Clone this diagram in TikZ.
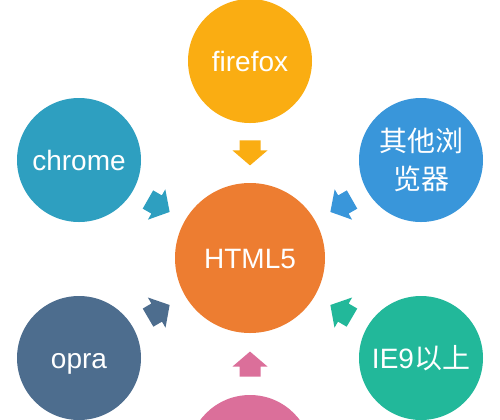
\documentclass[tikz,border=0pt]{standalone}
\usepackage{fontspec}
\setmainfont{Liberation Sans}
\newfontfamily\cjk{Noto Sans CJK SC}
\usetikzlibrary{calc}
\definecolor{cff}{HTML}{FAAD12}
\definecolor{cchrome}{HTML}{2E9FC0}
\definecolor{cother}{HTML}{3996DA}
\definecolor{copra}{HTML}{4D6D8E}
\definecolor{cie}{HTML}{22B89A}
\definecolor{cpink}{HTML}{DB6F9A}
\definecolor{chtml}{HTML}{ED7D31}
\tikzset{
  ball/.style={circle, minimum size=93pt, inner sep=0pt, text=white, align=center,
    font=\fontsize{21}{28.5}\selectfont},
  oneline/.style={ball, text height=15pt, text depth=0pt},
  bigball/.style={oneline, minimum size=112.5pt},
  pics/barrow/.style={code={
    \fill[#1] (0,0) -- (-15,17.5) -- (-15,10.5) -- (-25,10.5) -- (-25,-10.5) -- (-15,-10.5) -- (-15,-17.5) -- cycle;}}
}
\begin{document}
\begin{tikzpicture}[x=0.75pt,y=-0.75pt]
\clip (0,0) rectangle (500,419);
\fill[white] (0,0) rectangle (500,419);
\node[bigball, fill=chtml] (html) at (250,258) {HTML5};
\node[oneline, fill=cff] (ff) at (250,61) {firefox};
\node[oneline, fill=cchrome] (chrome) at (79,160) {chrome};
\node[ball, fill=cother] (other) at (421,160) {\cjk 其他浏\\\cjk 览器};
\node[oneline, fill=copra] (opra) at (79,358) {opra};
\node[oneline, fill=cie] (ie) at (421,358) {IE9{\cjk 以上}};
\node[ball, fill=cpink] (pink) at (250,457) {};
\foreach \nm/\cl in {ff/cff, chrome/cchrome, other/cother, opra/copra, ie/cie, pink/cpink}{
  \path let \p1=($(html)-(\nm)$), \n1={atan2(\y1,\x1)} in
    ($(html)!0.47!(\nm)$) pic[rotate=\n1] {barrow=\cl};
}
\end{tikzpicture}
\end{document}
